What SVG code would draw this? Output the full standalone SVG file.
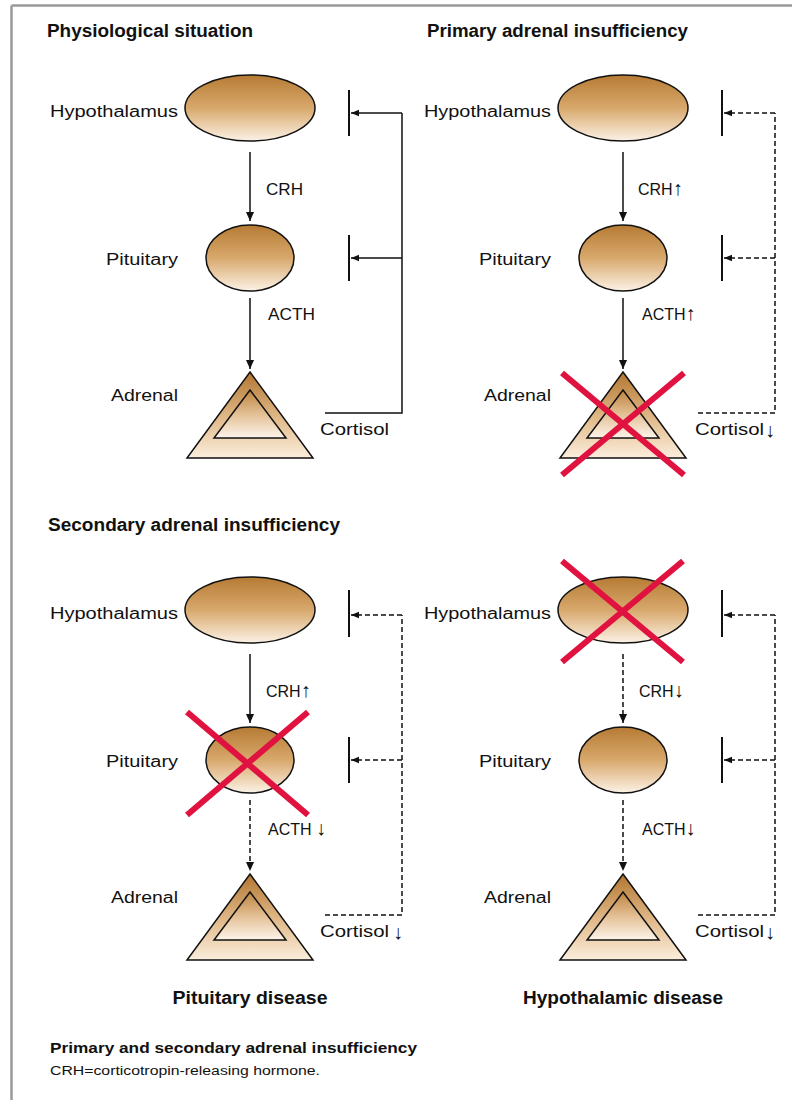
<svg xmlns="http://www.w3.org/2000/svg" width="792" height="1100" viewBox="0 0 792 1100">
<style>
.frame{fill:none;stroke:#9a9a9a;stroke-width:2.5}
.title{font-family:"Liberation Sans",Arial,sans-serif;font-weight:bold;font-size:18px;fill:#111}
.lbl{font-family:"Liberation Sans",Arial,sans-serif;font-size:16px;fill:#111}
.ar{font-size:20px}
.cap1{font-family:"Liberation Sans",Arial,sans-serif;font-weight:bold;font-size:15px;fill:#111}
.cap2{font-family:"Liberation Sans",Arial,sans-serif;font-size:12px;fill:#111}
.organ{stroke:#111;stroke-width:1.5}
.ell{fill:url(#gEll)}
.tri{fill:url(#gTri)}
.tri2{fill:url(#gTri2)}
.ln{fill:none;stroke:#111;stroke-width:1.5}
.dash{stroke-dasharray:5 3}
.bar{stroke:#111;stroke-width:2}
.x{stroke:#e0123f;stroke-width:6;stroke-linecap:butt}
.ad{marker-end:url(#arrD)}
.al{marker-end:url(#arrL)}
</style>
<defs>
<linearGradient id="gEll" x1="0" y1="0" x2="0" y2="1">
<stop offset="0" stop-color="#b67b34"/>
<stop offset="0.5" stop-color="#d8a86c"/>
<stop offset="1" stop-color="#fcf2e6"/>
</linearGradient>
<linearGradient id="gTri" x1="0" y1="0" x2="0" y2="1">
<stop offset="0" stop-color="#b27630"/>
<stop offset="0.55" stop-color="#e2bb8c"/>
<stop offset="1" stop-color="#fbeedd"/>
</linearGradient>
<linearGradient id="gTri2" x1="0" y1="0" x2="0" y2="1">
<stop offset="0" stop-color="#bd843f"/>
<stop offset="0.5" stop-color="#e3bf94"/>
<stop offset="1" stop-color="#fdf4ea"/>
</linearGradient>
<marker id="arrD" viewBox="0 0 10 10" refX="10" refY="5" markerWidth="9" markerHeight="9" markerUnits="userSpaceOnUse" orient="auto">
<path d="M0,0.5 L10,5 L0,9.5 z" fill="#111"/>
</marker>
<marker id="arrL" viewBox="0 0 10 10" refX="10" refY="5" markerWidth="8" markerHeight="8" markerUnits="userSpaceOnUse" orient="auto">
<path d="M0,1 L10,5 L0,9 z" fill="#111"/>
</marker>
</defs>

<rect width="792" height="1100" fill="#fff"/>
<g id="frame">
<line class="frame" x1="11.5" y1="5.5" x2="792" y2="5.5"/>
<line class="frame" x1="11.5" y1="5.5" x2="11.5" y2="1100"/>
</g>

<g id="titles">
<text class="title" x="47" y="37" textLength="206" lengthAdjust="spacingAndGlyphs">Physiological situation</text>
<text class="title" x="427" y="37" textLength="261" lengthAdjust="spacingAndGlyphs">Primary adrenal insufficiency</text>
<text class="title" x="48" y="531" textLength="292" lengthAdjust="spacingAndGlyphs">Secondary adrenal insufficiency</text>
<text class="title" x="250" y="1004" text-anchor="middle" textLength="155" lengthAdjust="spacingAndGlyphs">Pituitary disease</text>
<text class="title" x="623" y="1004" text-anchor="middle" textLength="200" lengthAdjust="spacingAndGlyphs">Hypothalamic disease</text>
</g>

<!-- Panel 1: physiological -->
<g id="p1-hypothalamus">
<ellipse class="organ ell" cx="250" cy="108" rx="65" ry="33"/>
<text class="lbl" x="50" y="117" textLength="128" lengthAdjust="spacingAndGlyphs">Hypothalamus</text>
</g>
<g id="p1-pituitary">
<ellipse class="organ ell" cx="250" cy="258" rx="44" ry="33"/>
<text class="lbl" x="106" y="265" textLength="72" lengthAdjust="spacingAndGlyphs">Pituitary</text>
</g>
<g id="p1-adrenal">
<polygon class="organ tri" points="250,372 313,458 187,458"/>
<polygon class="organ tri2" points="250,390 286,438 214,438"/>
<text class="lbl" x="111" y="401" textLength="67" lengthAdjust="spacingAndGlyphs">Adrenal</text>
</g>

<!-- Panel 2: primary -->
<g id="p2-hypothalamus">
<ellipse class="organ ell" cx="623" cy="108" rx="65" ry="33"/>
<text class="lbl" x="424" y="117" textLength="127" lengthAdjust="spacingAndGlyphs">Hypothalamus</text>
</g>
<g id="p2-pituitary">
<ellipse class="organ ell" cx="623" cy="258" rx="44" ry="33"/>
<text class="lbl" x="479" y="265" textLength="72" lengthAdjust="spacingAndGlyphs">Pituitary</text>
</g>
<g id="p2-adrenal">
<polygon class="organ tri" points="623,372 686,458 560,458"/>
<polygon class="organ tri2" points="623,390 659,438 587,438"/>
<text class="lbl" x="484" y="401" textLength="67" lengthAdjust="spacingAndGlyphs">Adrenal</text>
<line class="x" x1="562" y1="373" x2="684" y2="475"/>
<line class="x" x1="684" y1="373" x2="562" y2="475"/>
</g>

<!-- Panel 3: secondary / pituitary disease -->
<g id="p3-hypothalamus">
<ellipse class="organ ell" cx="250" cy="610" rx="65" ry="33"/>
<text class="lbl" x="50" y="619" textLength="128" lengthAdjust="spacingAndGlyphs">Hypothalamus</text>
</g>
<g id="p3-pituitary">
<ellipse class="organ ell" cx="250" cy="760" rx="44" ry="33"/>
<text class="lbl" x="106" y="767" textLength="72" lengthAdjust="spacingAndGlyphs">Pituitary</text>
<line class="x" x1="187" y1="712" x2="308" y2="815"/>
<line class="x" x1="308" y1="712" x2="187" y2="815"/>
</g>
<g id="p3-adrenal">
<polygon class="organ tri" points="250,874 313,960 187,960"/>
<polygon class="organ tri2" points="250,892 286,940 214,940"/>
<text class="lbl" x="111" y="903" textLength="67" lengthAdjust="spacingAndGlyphs">Adrenal</text>
</g>

<!-- Panel 4: hypothalamic disease -->
<g id="p4-hypothalamus">
<ellipse class="organ ell" cx="623" cy="610" rx="65" ry="33"/>
<text class="lbl" x="424" y="619" textLength="127" lengthAdjust="spacingAndGlyphs">Hypothalamus</text>
<line class="x" x1="562" y1="561" x2="683" y2="662"/>
<line class="x" x1="683" y1="561" x2="562" y2="662"/>
</g>
<g id="p4-pituitary">
<ellipse class="organ ell" cx="623" cy="760" rx="44" ry="33"/>
<text class="lbl" x="479" y="767" textLength="72" lengthAdjust="spacingAndGlyphs">Pituitary</text>
</g>
<g id="p4-adrenal">
<polygon class="organ tri" points="623,874 686,960 560,960"/>
<polygon class="organ tri2" points="623,892 659,940 587,940"/>
<text class="lbl" x="484" y="903" textLength="67" lengthAdjust="spacingAndGlyphs">Adrenal</text>
</g>

<g id="connectors">
<!-- panel 1 -->
<line class="ln ad" x1="250" y1="152" x2="250" y2="221"/>
<line class="ln ad" x1="250" y1="298" x2="250" y2="369"/>
<line class="bar" x1="349" y1="90" x2="349" y2="136"/>
<line class="bar" x1="349" y1="235" x2="349" y2="281"/>
<polyline class="ln" points="325,413 402,413 402,113"/>
<line class="ln al" x1="402" y1="113" x2="351" y2="113"/>
<line class="ln al" x1="402" y1="258" x2="351" y2="258"/>
<!-- panel 2 -->
<line class="ln ad" x1="623" y1="152" x2="623" y2="221"/>
<line class="ln ad" x1="623" y1="298" x2="623" y2="369"/>
<line class="bar" x1="722" y1="90" x2="722" y2="136"/>
<line class="bar" x1="722" y1="235" x2="722" y2="281"/>
<polyline class="ln dash" points="698,413 775,413 775,113"/>
<line class="ln dash al" x1="775" y1="113" x2="724" y2="113"/>
<line class="ln dash al" x1="775" y1="258" x2="724" y2="258"/>
<!-- panel 3 -->
<line class="ln ad" x1="250" y1="654" x2="250" y2="723"/>
<line class="ln dash ad" x1="250" y1="800" x2="250" y2="871"/>
<line class="bar" x1="349" y1="590" x2="349" y2="637"/>
<line class="bar" x1="349" y1="737" x2="349" y2="783"/>
<polyline class="ln dash" points="325,915 402,915 402,615"/>
<line class="ln dash al" x1="402" y1="615" x2="351" y2="615"/>
<line class="ln dash al" x1="402" y1="760" x2="351" y2="760"/>
<!-- panel 4 -->
<line class="ln dash ad" x1="623" y1="654" x2="623" y2="723"/>
<line class="ln dash ad" x1="623" y1="800" x2="623" y2="871"/>
<line class="bar" x1="722" y1="590" x2="722" y2="637"/>
<line class="bar" x1="722" y1="737" x2="722" y2="783"/>
<polyline class="ln dash" points="698,915 775,915 775,615"/>
<line class="ln dash al" x1="775" y1="615" x2="724" y2="615"/>
<line class="ln dash al" x1="775" y1="760" x2="724" y2="760"/>
</g>

<g id="hormone-labels">
<text class="lbl" x="266" y="195" textLength="37" lengthAdjust="spacingAndGlyphs">CRH</text>
<text class="lbl" x="268" y="320" textLength="47" lengthAdjust="spacingAndGlyphs">ACTH</text>
<text class="lbl" x="320" y="435" textLength="69" lengthAdjust="spacingAndGlyphs">Cortisol</text>

<text class="lbl" x="638" y="195">CRH<tspan class="ar">↑</tspan></text>
<text class="lbl" x="642" y="320">ACTH<tspan class="ar">↑</tspan></text>
<text class="lbl" x="695" y="435" textLength="69" lengthAdjust="spacingAndGlyphs">Cortisol</text><text class="lbl ar" x="765" y="437">↓</text>

<text class="lbl" x="266" y="697">CRH<tspan class="ar">↑</tspan></text>
<text class="lbl" x="268" y="835">ACTH <tspan class="ar">↓</tspan></text>
<text class="lbl" x="320" y="937" textLength="69" lengthAdjust="spacingAndGlyphs">Cortisol</text><text class="lbl ar" x="393" y="939">↓</text>

<text class="lbl" x="639" y="697">CRH<tspan class="ar">↓</tspan></text>
<text class="lbl" x="642" y="835">ACTH<tspan class="ar">↓</tspan></text>
<text class="lbl" x="695" y="937" textLength="69" lengthAdjust="spacingAndGlyphs">Cortisol</text><text class="lbl ar" x="765" y="939">↓</text>
</g>

<g id="caption">
<text class="cap1" x="50" y="1053" textLength="367" lengthAdjust="spacingAndGlyphs">Primary and secondary adrenal insufficiency</text>
<text class="cap2" x="50" y="1075" textLength="270" lengthAdjust="spacingAndGlyphs">CRH=corticotropin-releasing hormone.</text>
</g>
</svg>
